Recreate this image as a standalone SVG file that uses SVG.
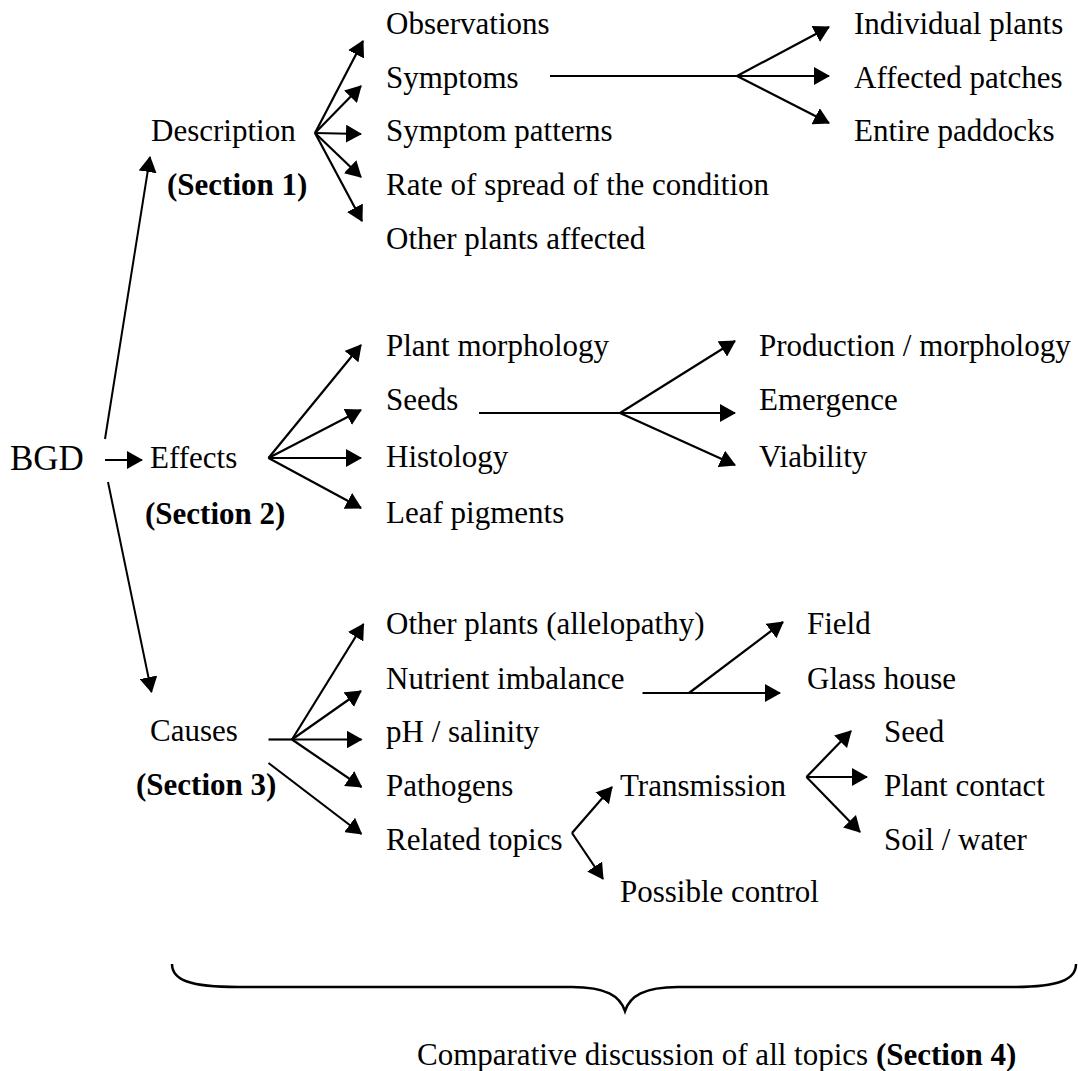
<svg xmlns="http://www.w3.org/2000/svg" width="1078" height="1071" viewBox="0 0 1078 1071">
<style>
text{font-family:"Liberation Serif",Tinos,"Times New Roman","DejaVu Serif",serif;font-size:31px;fill:#000}
.b{font-weight:bold}
.big{font-size:35px}
.c line,.c path{stroke:#000;stroke-width:2.2;fill:none}
.c .a{marker-end:url(#ah)}
</style>
<defs>
<marker id="ah" viewBox="0 0 16 18" refX="15" refY="9" markerWidth="16" markerHeight="18" markerUnits="userSpaceOnUse" orient="auto">
<path d="M0,0 L16,9 L0,18 z" fill="#000"/>
</marker>
</defs>
<rect width="1078" height="1071" fill="#fff"/>
<g font-family="Liberation Serif, Times New Roman, serif">
<g id="bgd"><text class="big" x="10" y="470">BGD</text></g>
<g id="description"><text x="151" y="141">Description</text><text class="b" x="167" y="195">(Section 1)</text></g>
<g id="effects"><text x="150" y="468">Effects</text><text class="b" x="145" y="524">(Section 2)</text></g>
<g id="causes"><text x="150" y="741">Causes</text><text class="b" x="136" y="795">(Section 3)</text></g>
<g id="observations"><text x="386" y="34">Observations</text></g>
<g id="symptoms"><text x="386" y="88">Symptoms</text></g>
<g id="symptom-patterns"><text x="386" y="141">Symptom patterns</text></g>
<g id="rate"><text x="386" y="195">Rate of spread of the condition</text></g>
<g id="other-plants-affected"><text x="386" y="249">Other plants affected</text></g>
<g id="individual"><text x="854" y="34">Individual plants</text></g>
<g id="patches"><text x="854" y="88">Affected patches</text></g>
<g id="paddocks"><text x="854" y="141">Entire paddocks</text></g>
<g id="plant-morphology"><text x="386" y="356">Plant morphology</text></g>
<g id="seeds"><text x="386" y="410">Seeds</text></g>
<g id="histology"><text x="386" y="467">Histology</text></g>
<g id="leaf-pigments"><text x="386" y="523">Leaf pigments</text></g>
<g id="production"><text x="759" y="356">Production / morphology</text></g>
<g id="emergence"><text x="759" y="410">Emergence</text></g>
<g id="viability"><text x="759" y="467">Viability</text></g>
<g id="allelopathy"><text x="386" y="634">Other plants (allelopathy)</text></g>
<g id="nutrient"><text x="386" y="689">Nutrient imbalance</text></g>
<g id="ph"><text x="386" y="742">pH / salinity</text></g>
<g id="pathogens"><text x="386" y="796">Pathogens</text></g>
<g id="related"><text x="386" y="850">Related topics</text></g>
<g id="field"><text x="807" y="634">Field</text></g>
<g id="glass-house"><text x="807" y="689">Glass house</text></g>
<g id="transmission"><text x="620" y="796">Transmission</text></g>
<g id="possible-control"><text x="620" y="902">Possible control</text></g>
<g id="seed"><text x="884" y="742">Seed</text></g>
<g id="plant-contact"><text x="884" y="796">Plant contact</text></g>
<g id="soil-water"><text x="884" y="850">Soil / water</text></g>
<g id="comparative"><text x="417" y="1065">Comparative discussion of all topics <tspan class="b">(Section 4)</tspan></text></g>
</g>
<g id="connectors" class="c">
<line class="a" x1="105" y1="439" x2="150" y2="157" style="stroke-width:2"/>
<line class="a" x1="105" y1="460" x2="142" y2="460"/>
<line class="a" x1="108" y1="482" x2="151.5" y2="692" style="stroke-width:2"/>
<line class="a" x1="315" y1="133" x2="363" y2="41"/>
<line class="a" x1="315" y1="133" x2="361" y2="86"/>
<line class="a" x1="315" y1="133" x2="361" y2="134"/>
<line class="a" x1="315" y1="133" x2="361" y2="177"/>
<line class="a" x1="315" y1="133" x2="362" y2="221"/>
<line class="a" x1="550" y1="76" x2="829" y2="76"/>
<line class="a" x1="737" y1="76" x2="829" y2="27"/>
<line class="a" x1="737" y1="76" x2="829" y2="123"/>
<line class="a" x1="268.5" y1="458" x2="361" y2="345"/>
<line class="a" x1="268.5" y1="458" x2="361" y2="410"/>
<line class="a" x1="268.5" y1="458" x2="361" y2="458"/>
<line class="a" x1="268.5" y1="458" x2="361" y2="508"/>
<line class="a" x1="479" y1="413" x2="735" y2="413"/>
<line class="a" x1="620" y1="413" x2="735" y2="341"/>
<line class="a" x1="620" y1="413" x2="735" y2="465"/>
<line x1="268.5" y1="739.5" x2="292" y2="739.5"/>
<line class="a" x1="292" y1="739.5" x2="363.5" y2="624"/>
<line class="a" x1="292" y1="739.5" x2="361" y2="691"/>
<line class="a" x1="292" y1="739.5" x2="361.5" y2="739.5"/>
<line class="a" x1="292" y1="739.5" x2="361.5" y2="787"/>
<line class="a" x1="268.5" y1="763" x2="361.5" y2="834"/>
<line class="a" x1="642.5" y1="693" x2="780" y2="693"/>
<line class="a" x1="689" y1="693" x2="783" y2="622"/>
<line class="a" x1="572" y1="833" x2="612" y2="787"/>
<line class="a" x1="572" y1="833" x2="603" y2="879"/>
<line class="a" x1="806.5" y1="777" x2="851" y2="731"/>
<line class="a" x1="806.5" y1="777" x2="867" y2="777"/>
<line class="a" x1="806.5" y1="777" x2="860" y2="832"/>
<path d="M172,964 C172,980 190,987 238,987 L572,987 C606,987 620,996 625,1011 C630,996 644,987 678,987 L1012,987 C1058,987 1076,980 1076,964" style="stroke-width:2.5"/>
</g>
</svg>
